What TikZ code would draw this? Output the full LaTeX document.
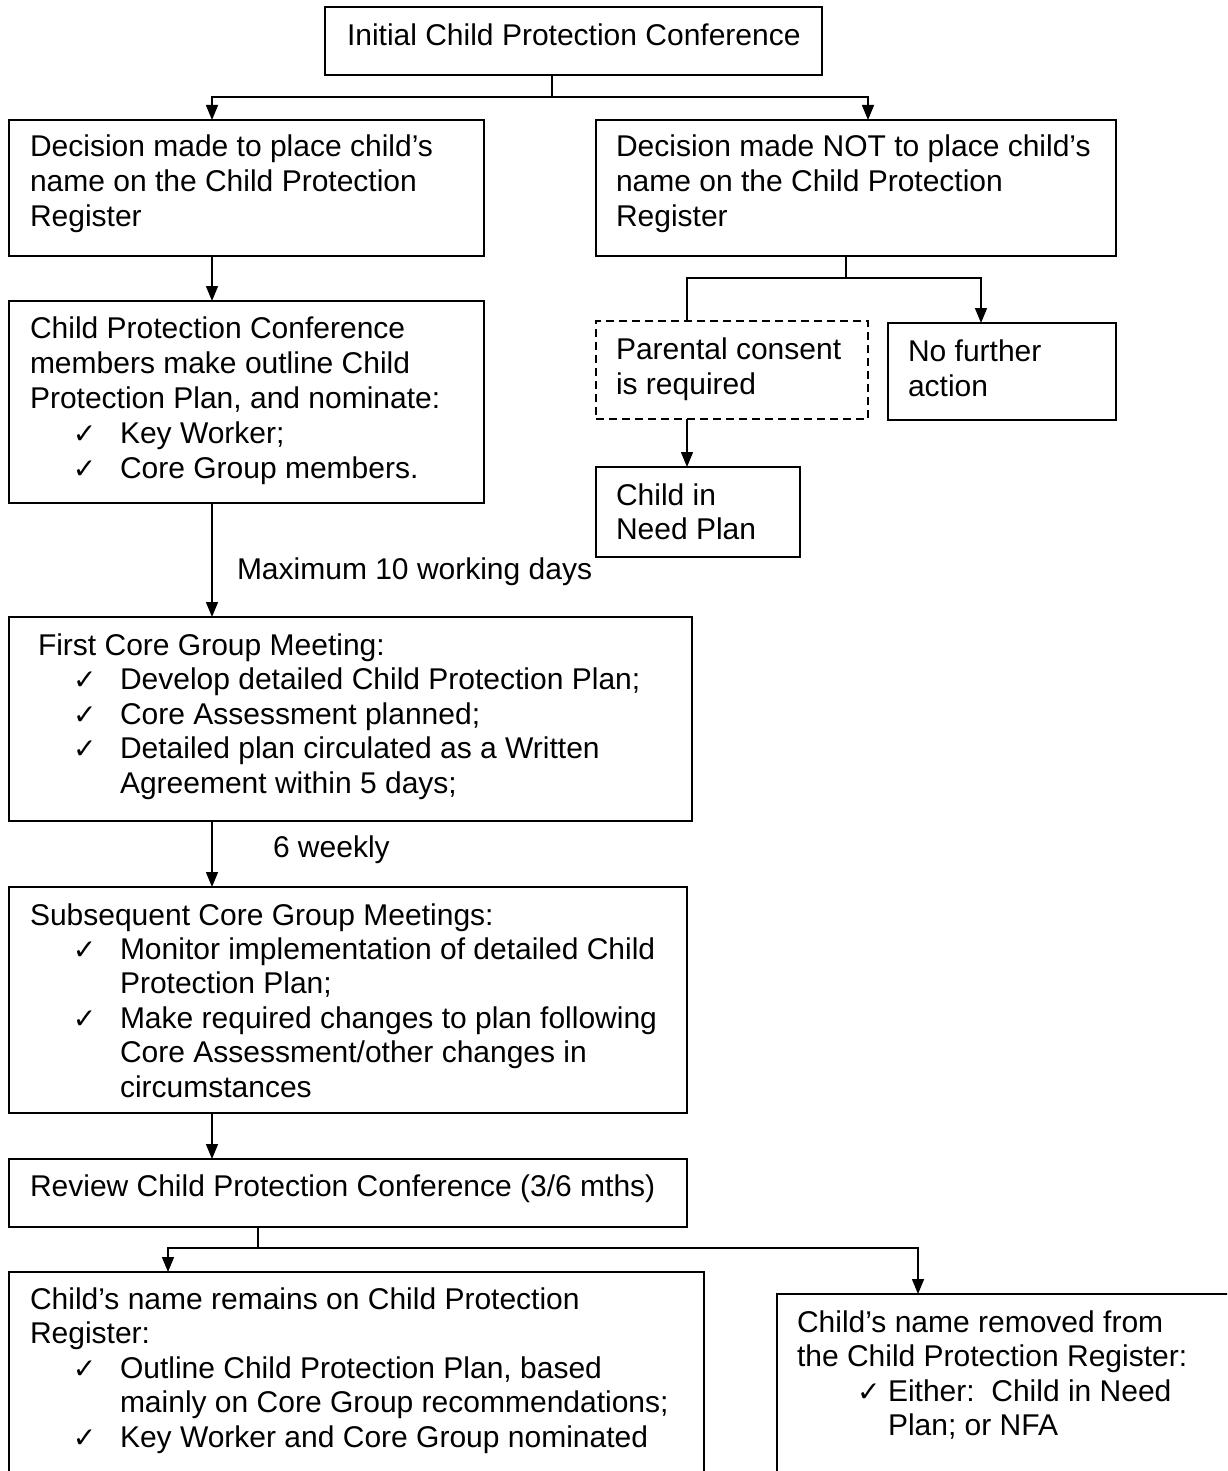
\documentclass[tikz,border=0pt]{standalone}
\usepackage{fontspec}
\setmainfont{Liberation Sans}
\newfontfamily\ckfont{DejaVu Sans}
\usetikzlibrary{arrows.meta}
\newcommand\ckmark{{\ckfont\fontsize{28}{28}\selectfont ✓}}
\newcommand\ml[2]{\vtop{\baselineskip=#1\lineskiplimit=-100pt\lineskip=0pt #2}}
\newcommand\ckl[3]{\hbox{\hskip#1\relax\hbox to #2{\ckmark\hfil}#3}}
\newcommand\ind[2]{\hbox{\hskip#1\relax #2}}
\begin{document}
\begin{tikzpicture}[x=1pt,y=-1pt,
  box/.style={draw, line width=1.8pt, inner sep=0pt, outer sep=0pt, anchor=north west},
  dbox/.style={box, line width=1.5pt, dash pattern=on 8pt off 5pt},
  txt/.style={anchor=base west, inner sep=0pt, outer sep=0pt, font=\fontsize{30}{34.5}\selectfont},
  conn/.style={line width=1.5pt},
  arr/.style={conn, -{Triangle[length=15pt,width=12pt]}}]
\useasboundingbox (0,0) rectangle (1227,1471);
\clip (0,0) rectangle (1227,1471);

% boxes
\node[box, minimum width=497pt, minimum height=68pt] (top) at (325,7) {};
\node[box, minimum width=475pt, minimum height=136pt] (l1) at (9,120) {};
\node[box, minimum width=520pt, minimum height=136pt] (r1) at (596,120) {};
\node[box, minimum width=475pt, minimum height=202pt] (l2) at (9,301) {};
\node[dbox, minimum width=272pt, minimum height=98pt] (pc) at (596,321) {};
\node[box, minimum width=228pt, minimum height=97pt] (nfa) at (888,323) {};
\node[box, minimum width=204pt, minimum height=90pt] (cin) at (596,467) {};
\node[box, minimum width=683pt, minimum height=204pt] (l3) at (9,617) {};
\node[box, minimum width=678pt, minimum height=226pt] (l4) at (9,887) {};
\node[box, minimum width=678pt, minimum height=68pt] (l5) at (9,1159) {};
\node[box, minimum width=695pt, minimum height=260pt] (l6) at (9,1272) {};
\node[box, minimum width=500pt, minimum height=240pt] (r6) at (777,1294) {};

% texts
\node[txt] (ttop) at (347,46) {Initial Child Protection Conference};
\node[txt] (tl1) at (30,157) {\ml{35pt}{\hbox{Decision made to place child’s}\hbox{name on the Child Protection}\hbox{Register}}};
\node[txt] (tr1) at (616,157) {\ml{35pt}{\hbox{Decision made NOT to place child’s}\hbox{name on the Child Protection}\hbox{Register}}};
\node[txt] (tl2) at (30,338) {\ml{35pt}{\hbox{Child Protection Conference}\hbox{members make outline Child}\hbox{Protection Plan, and nominate:}\ckl{43pt}{47pt}{Key Worker;}\ckl{43pt}{47pt}{Core Group members.}}};
\node[txt] (tpc) at (616,359) {\ml{35pt}{\hbox{Parental consent}\hbox{is required}}};
\node[txt] (tnfa) at (908,361) {\ml{35pt}{\hbox{No further}\hbox{action}}};
\node[txt] (tcin) at (616,505) {\ml{34pt}{\hbox{Child in}\hbox{Need Plan}}};
\node[txt] (tmax) at (237,579) {Maximum 10 working days};
\node[txt] (tl3) at (38,655) {\ml{34.5pt}{\hbox{First Core Group Meeting:}\ckl{35pt}{47pt}{Develop detailed Child Protection Plan;}\ckl{35pt}{47pt}{Core Assessment planned;}\ckl{35pt}{47pt}{Detailed plan circulated as a Written}\ind{82pt}{Agreement within 5 days;}}};
\node[txt] (t6w) at (273,857) {6 weekly};
\node[txt] (tl4) at (30,925) {\ml{34.4pt}{\hbox{Subsequent Core Group Meetings:}\ckl{43pt}{47pt}{Monitor implementation of detailed Child}\ind{90pt}{Protection Plan;}\ckl{43pt}{47pt}{Make required changes to plan following}\ind{90pt}{Core Assessment/other changes in}\ind{90pt}{circumstances}}};
\node[txt] (tl5) at (30,1196) {Review Child Protection Conference (3/6 mths)};
\node[txt] (tl6) at (30,1309) {\ml{34.5pt}{\hbox{Child’s name remains on Child Protection}\hbox{Register:}\ckl{43pt}{47pt}{Outline Child Protection Plan, based}\ind{90pt}{mainly on Core Group recommendations;}\ckl{43pt}{47pt}{Key Worker and Core Group nominated}}};
\node[txt] (tr6) at (797,1332) {\ml{34.5pt}{\hbox{Child’s name removed from}\hbox{the Child Protection Register:}\ckl{60pt}{31pt}{Either:\ \ Child in Need}\ind{91pt}{Plan; or NFA}}};

% junctions
\coordinate (j1) at (552,97);
\coordinate (xa) at (212,0);
\coordinate (xb) at (868,0);
\coordinate (j2) at (846,278);
\coordinate (xc) at (687,0);
\coordinate (xd) at (981,0);
\coordinate (j3) at (258,1248);
\coordinate (xe) at (168,0);
\coordinate (xf) at (918,0);

% connectors
\draw[conn] (top.south -| j1) -- (j1);
\draw[arr] (j1) -| (l1.north -| xa);
\draw[arr] (j1) -| (r1.north -| xb);
\draw[arr] (l1.south -| xa) -- (l2.north -| xa);
\draw[conn] (r1.south -| j2) -- (j2);
\draw[conn] (j2) -| (pc.north -| xc);
\draw[arr] (j2) -| (nfa.north -| xd);
\draw[arr] (pc.south -| xc) -- (cin.north -| xc);
\draw[arr] (l2.south -| xa) -- (l3.north -| xa);
\draw[arr] (l3.south -| xa) -- (l4.north -| xa);
\draw[arr] (l4.south -| xa) -- (l5.north -| xa);
\draw[conn] (l5.south -| j3) -- (j3);
\draw[arr] (j3) -| (l6.north -| xe);
\draw[arr] (j3) -| (r6.north -| xf);
\end{tikzpicture}
\end{document}
